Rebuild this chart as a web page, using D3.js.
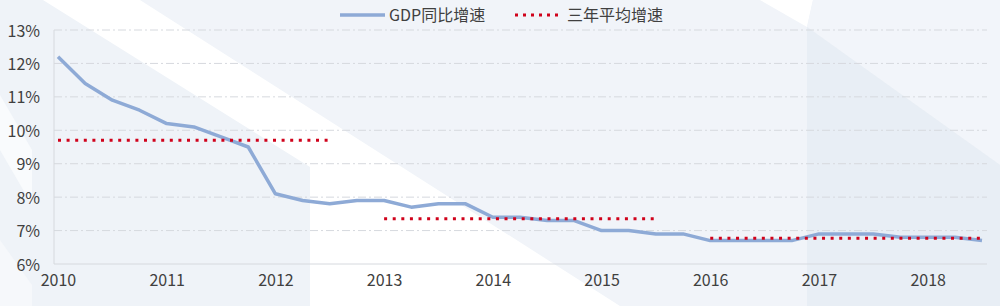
<!DOCTYPE html>
<html><head><meta charset="utf-8">
<script src="https://cdn.jsdelivr.net/npm/d3@7"></script>
<style>html,body{margin:0;padding:0;background:#fff;}svg{display:block;}</style>
</head><body>
<svg id="c" width="1000" height="306"></svg>
<script>
const quarters = ["2010Q1","2010Q2","2010Q3","2010Q4","2011Q1","2011Q2","2011Q3","2011Q4","2012Q1","2012Q2","2012Q3","2012Q4","2013Q1","2013Q2","2013Q3","2013Q4","2014Q1","2014Q2","2014Q3","2014Q4","2015Q1","2015Q2","2015Q3","2015Q4","2016Q1","2016Q2","2016Q3","2016Q4","2017Q1","2017Q2","2017Q3","2017Q4","2018Q1","2018Q2","2018Q3"];
const gdpGrowth = [12.2,11.4,10.9,10.6,10.2,10.1,9.8,9.5,8.1,7.9,7.8,7.9,7.9,7.7,7.8,7.8,7.4,7.4,7.3,7.3,7.0,7.0,6.9,6.9,6.7,6.7,6.7,6.7,6.9,6.9,6.9,6.8,6.8,6.8,6.7];
const avgStart = ["2010Q1","2013Q1","2016Q1"];
const avgEnd = ["2012Q3","2015Q3","2018Q3"];
const avgValue = [9.7,7.35,6.77];
const yTicks = [6,7,8,9,10,11,12,13];
const yearLabels = ["2010","2011","2012","2013","2014","2015","2016","2017","2018"];
const seriesNames = ["GDP同比增速","三年平均增速"];

const svg = d3.select("#c");
const W = 1000, H = 306;
const font = "'Noto Sans CJK SC','Microsoft YaHei',sans-serif";
const textColor = "#404040";

// decorative background
const bg = svg.append("g");
bg.append("rect").attr("width",W).attr("height",H).attr("fill","#eff3f8");
const poly = (pts, fill) => bg.append("polygon").attr("points", pts.map(p=>p.join(",")).join(" ")).attr("fill", fill);
poly([[140,0],[760,0],[807,27],[807,306],[620,306]], "#f1f4f9");
poly([[43,0],[140,0],[620,306],[310,306],[310,167]], "#ffffff");
poly([[0,95],[0,150],[32,205],[32,150]], "#f9fbfd");
poly([[0,240],[0,306],[32,306],[32,285]], "#f6f8fb");
poly([[760,0],[813,0],[807,27]], "#ffffff");
poly([[813,0],[1000,0],[1000,165],[807,27]], "#f2f5fa");
poly([[807,27],[1000,165],[1000,306],[807,306]], "#e8eef5");

const x = d3.scalePoint().domain(quarters).range([58,982]);
const y = d3.scaleLinear().domain([6,13]).range([264,30]);
const xLeft = 54, xRight = 987;

// gridlines
svg.append("g").selectAll("line").data(yTicks.filter(t=>t>6)).join("line")
  .attr("x1",xLeft).attr("x2",xRight)
  .attr("y1",d=>y(d)).attr("y2",d=>y(d))
  .attr("stroke","#d6d9de").attr("stroke-width",1)
  .attr("stroke-dasharray","8,3,2,3");

// axes lines
svg.append("line").attr("x1",xLeft).attr("x2",xRight).attr("y1",y(6)).attr("y2",y(6)).attr("stroke","#d6d9de");
svg.append("line").attr("x1",xLeft).attr("x2",xLeft).attr("y1",y(6)).attr("y2",y(13)).attr("stroke","#d6d9de");

// y labels
const yAxis = d3.axisLeft(y).tickValues(yTicks).tickFormat(d=>d+"%").tickSize(0).tickPadding(0);
const ya = svg.append("g").attr("transform",`translate(40,0)`).call(yAxis);
ya.select(".domain").remove();
ya.selectAll("text").attr("font-family",font).attr("font-size",16).attr("fill",textColor).attr("dy","0.38em");

// x labels
const xAxis = d3.axisBottom(x).tickValues(yearLabels.map(yr=>yr+"Q1")).tickFormat(d=>d.slice(0,4)).tickSize(0).tickPadding(0);
const xa = svg.append("g").attr("transform",`translate(0,281)`).call(xAxis);
xa.select(".domain").remove();
xa.selectAll("text").attr("font-family",font).attr("font-size",16).attr("fill",textColor).attr("dy","0.32em");

// GDP line
const line = d3.line().x((d,i)=>x(quarters[i])).y(d=>y(d));
svg.append("path").datum(gdpGrowth).attr("d",line)
  .attr("fill","none").attr("stroke","#8eaad6").attr("stroke-width",3.5).attr("stroke-linejoin","round");

// average dotted lines
svg.append("g").selectAll("line").data(avgValue).join("line")
  .attr("x1",(d,i)=>x(avgStart[i])).attr("x2",(d,i)=>x(avgEnd[i]))
  .attr("y1",d=>y(d)).attr("y2",d=>y(d))
  .attr("stroke","#d0021b").attr("stroke-width",3).attr("stroke-dasharray","3,5.6");

// legend
const lg = svg.append("g");
lg.append("line").attr("x1",340).attr("x2",385).attr("y1",15).attr("y2",15).attr("stroke","#8eaad6").attr("stroke-width",3.5);
lg.append("text").attr("x",389).attr("y",15).attr("dy","0.35em").text(seriesNames[0])
  .attr("font-family",font).attr("font-size",16).attr("fill",textColor);
lg.append("line").attr("x1",515).attr("x2",560).attr("y1",15).attr("y2",15).attr("stroke","#d0021b").attr("stroke-width",3).attr("stroke-dasharray","3,5");
lg.append("text").attr("x",567).attr("y",15).attr("dy","0.35em").text(seriesNames[1])
  .attr("font-family",font).attr("font-size",16).attr("fill",textColor);
</script>
</body></html>
